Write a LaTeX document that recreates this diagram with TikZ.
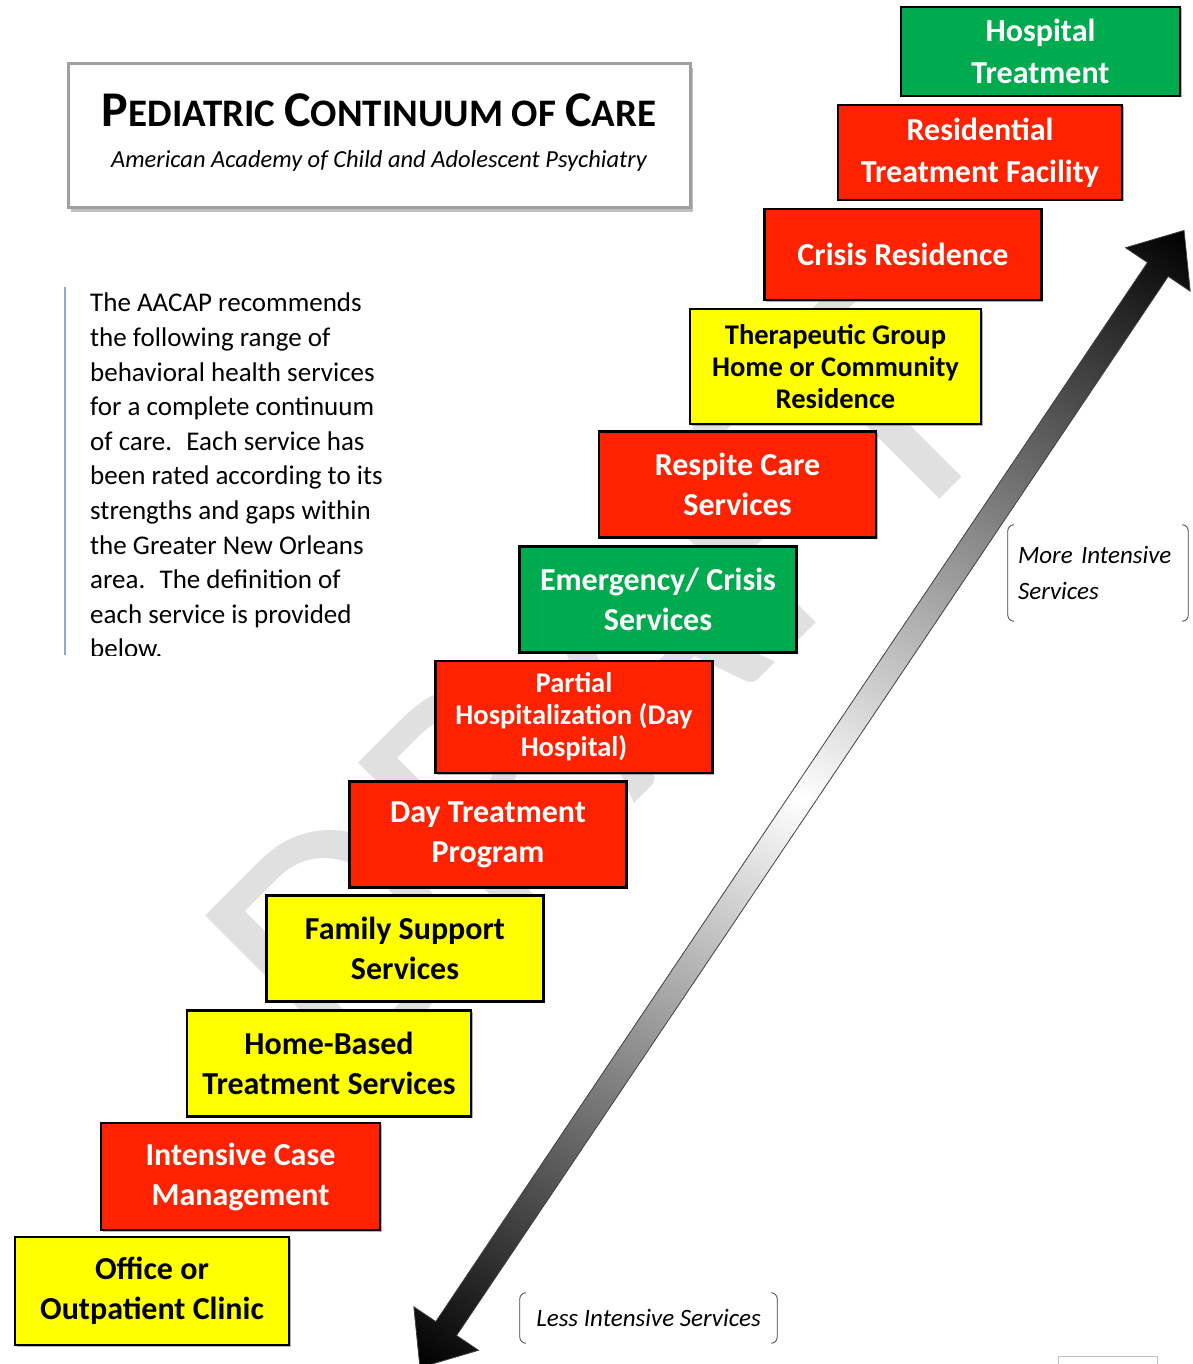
\documentclass[tikz,border=0pt]{standalone}
\usepackage{fontspec}
\setmainfont{Carlito}
\usetikzlibrary{shadows}
\definecolor{stepred}{HTML}{FF2200}
\definecolor{stepgreen}{HTML}{00AA4E}
\definecolor{stepyellow}{HTML}{FFFF00}
\definecolor{sidebar}{HTML}{8CAAD2}
\newcommand{\scword}[2]{{\fontsize{50}{50}\selectfont #1}#2}
\begin{document}
\begin{tikzpicture}[x=1pt, y=-1pt,
    stepbox/.style={draw=black, line width=2.5pt, align=center, inner sep=2pt,
      minimum width=277pt, minimum height=106pt,
      font=\bfseries\fontsize{32}{40}\selectfont,
      drop shadow={shadow xshift=1.5pt, shadow yshift=-1.5pt, fill=black!60, opacity=0.5}},
    redbox/.style={stepbox, fill=stepred, text=white},
    greenbox/.style={stepbox, fill=stepgreen, text=white},
    yellowbox/.style={stepbox, fill=stepyellow, text=black},
    threeline/.style={font=\bfseries\fontsize{28.5}{32}\selectfont},
    wideline/.style={font=\bfseries\fontsize{32}{42}\selectfont},
    bracketlbl/.style={font=\itshape\fontsize{25}{36}\selectfont, inner xsep=10pt},
    bracketline/.style={draw=black!75, line width=0.8pt}]
  \useasboundingbox (0,0) rectangle (1192,1364);
  % Watermark
  \node[font=\fontsize{350}{350}\selectfont, text=gray!24, rotate=45] (draft) at (600,680) {DRAFT};
  % Title box
  \node[draw=gray!75, line width=3pt, fill=white, minimum width=622pt, minimum height=144pt,
    drop shadow={shadow xshift=3pt, shadow yshift=-4pt, fill=black!50, opacity=0.5}] (title) at (379,136) {};
  \node[font=\bfseries\fontsize{39}{39}\selectfont] (titletext) at (379,110)
    {\scword{P}{EDIATRIC} \scword{C}{ONTINUUM} OF \scword{C}{ARE}};
  \node[font=\itshape\fontsize{24.5}{24.5}\selectfont] (subtitle) at (379,161) {American Academy of Child and Adolescent Psychiatry};
  % Intro text with side bar
  \draw[sidebar, line width=2pt] (65,287) -- (65,655);
  \begin{scope}
    \clip (60,280) rectangle (430,655);
    \node[anchor=north west, inner sep=0pt, align=left, font=\fontsize{27}{34.6}\selectfont] (intro) at (90,293)
      {The AACAP recommends\\ the following range of\\ behavioral health services\\ for a complete continuum\\
       of care.~ Each service has\\ been rated according to its\\ strengths and gaps within\\ the Greater New Orleans\\
       area.~ The definition of\\ each service is provided\\ below.};
  \end{scope}
  % Intensity arrow
  \begin{scope}[transform canvas={shift={(802,799)}, rotate=56.1}]
    \shade[bracketline, left color=black, right color=black, middle color=white]
      (-685,0) -- (-638,39) -- (-638,12.5) -- (638,12.5) -- (638,39) -- (685,0)
      -- (638,-39) -- (638,-12.5) -- (-638,-12.5) -- (-638,-39) -- cycle;
  \end{scope}
  % Steps, top to bottom
  \node[greenbox, wideline, minimum width=279pt, minimum height=89pt] (hosp) at (1040.5,51.5) {Hospital\\Treatment};
  \node[redbox, wideline, minimum width=284pt, minimum height=95pt] (rtf) at (980,152.5) {Residential\\Treatment Facility};
  \node[redbox, minimum height=91pt] (crisisres) at (903,254.5) {Crisis Residence};
  \node[yellowbox, threeline, minimum width=291pt, minimum height=115pt] (tgh) at (835.5,366.5) {Therapeutic Group\\Home or Community\\Residence};
  \node[redbox] (respite) at (737.5,484.5) {Respite Care\\Services};
  \node[greenbox] (emerg) at (658,599.5) {Emergency/ Crisis\\Services};
  \node[redbox, threeline, minimum height=112pt] (php) at (574,717) {Partial\\Hospitalization (Day\\Hospital)};
  \node[redbox] (daytx) at (488,834.5) {Day Treatment\\Program};
  \node[yellowbox] (family) at (405,948.5) {Family Support\\Services};
  \node[yellowbox, minimum width=284pt] (homebased) at (329,1063.5) {Home-Based\\Treatment Services};
  \node[redbox, minimum width=279pt, minimum height=107pt] (icm) at (240.5,1176.5) {Intensive Case\\Management};
  \node[yellowbox, minimum width=274pt, minimum height=108pt] (office) at (152,1291) {Office or\\Outpatient Clinic};
  % Bracketed labels
  \node[bracketlbl, text width=160pt, align=left, minimum height=96pt] (moreint) at (1098,573) {More Intensive\\Services};
  \node[bracketlbl, minimum width=257pt, minimum height=50pt] (lessint) at (648.5,1318) {Less Intensive Services};
  \foreach \lbl in {moreint,lessint} {
    \draw[bracketline] ([xshift=6pt]\lbl.north west) to[out=180,in=90] ([yshift=-6pt]\lbl.north west)
      -- ([yshift=6pt]\lbl.south west) to[out=-90,in=180] ([xshift=6pt]\lbl.south west);
    \draw[bracketline] ([xshift=-6pt]\lbl.north east) to[out=0,in=90] ([yshift=-6pt]\lbl.north east)
      -- ([yshift=6pt]\lbl.south east) to[out=-90,in=0] ([xshift=-6pt]\lbl.south east);
  }
  % Cut-off box at bottom right
  \draw[gray!50, line width=1pt] (1058,1372) -- (1058,1356) -- (1157,1356) -- (1157,1372);
\end{tikzpicture}
\end{document}
